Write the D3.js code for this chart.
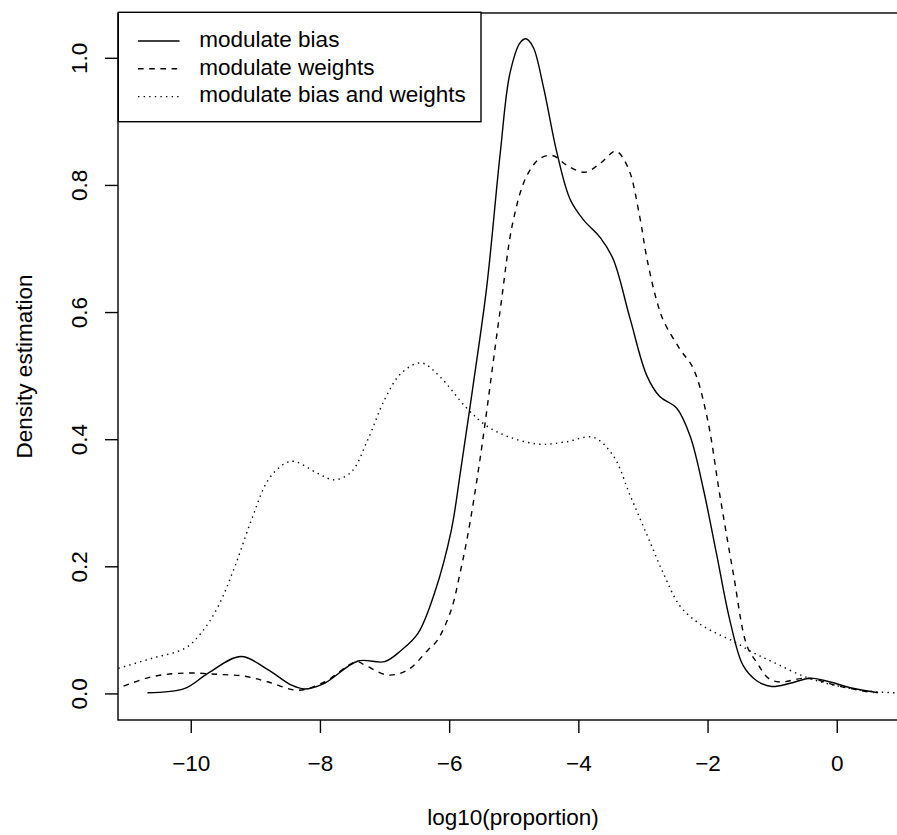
<!DOCTYPE html>
<html>
<head>
<meta charset="utf-8">
<script src="https://cdn.jsdelivr.net/npm/d3@7"></script>
<style>
  html, body { margin: 0; padding: 0; background: #fff; }
  svg { display: block; }
  text { font-family: "Liberation Sans", Arial, Helvetica, sans-serif; fill: #000; }
</style>
</head>
<body>
<svg id="chart" width="897" height="835"></svg>
<script>
// ---- Data ----
const biasX = [-10.67,-10.09,-9.73,-9.22,-8.80,-8.44,-8.24,-7.93,-7.41,-7.00,-6.74,-6.48,-6.22,-5.97,-5.83,-5.63,-5.42,-5.21,-5.06,-4.90,-4.81,-4.70,-4.54,-4.33,-4.13,-3.92,-3.66,-3.46,-3.20,-2.94,-2.74,-2.48,-2.27,-2.07,-1.86,-1.65,-1.45,-1.24,-1.01,-0.72,-0.41,-0.10,0.21,0.64];
const biasY = [0.001,0.008,0.032,0.058,0.037,0.013,0.007,0.016,0.051,0.050,0.068,0.095,0.160,0.255,0.345,0.484,0.638,0.849,0.975,1.024,1.030,1.017,0.954,0.850,0.778,0.745,0.717,0.683,0.590,0.500,0.467,0.449,0.405,0.324,0.219,0.113,0.044,0.020,0.011,0.016,0.024,0.018,0.009,0.001];

const weightsX = [-11.2,-10.61,-10.09,-9.58,-9.16,-8.80,-8.34,-7.93,-7.44,-7.31,-6.95,-6.64,-6.33,-6.18,-5.97,-5.83,-5.71,-5.52,-5.21,-5.01,-4.80,-4.59,-4.39,-4.18,-3.90,-3.66,-3.42,-3.23,-3.05,-2.94,-2.79,-2.68,-2.43,-2.22,-2.01,-1.81,-1.60,-1.39,-1.24,-1.06,-0.88,-0.46,0.05,0.57];
const weightsY = [0.005,0.026,0.032,0.030,0.027,0.018,0.005,0.018,0.050,0.045,0.029,0.037,0.068,0.084,0.131,0.190,0.250,0.370,0.603,0.743,0.814,0.842,0.846,0.831,0.820,0.834,0.853,0.827,0.750,0.685,0.619,0.586,0.542,0.511,0.436,0.312,0.188,0.075,0.049,0.024,0.018,0.024,0.011,0.001];

const bothX = [-11.2,-10.61,-10.09,-9.84,-9.58,-9.32,-9.06,-8.80,-8.54,-8.39,-8.03,-7.77,-7.51,-7.26,-7.00,-6.74,-6.43,-6.14,-5.73,-5.42,-5.06,-4.59,-4.18,-3.77,-3.46,-3.20,-2.94,-2.68,-2.43,-2.17,-1.91,-1.60,-1.29,-0.98,-0.46,0.05,0.57,1.2];
const bothY = [0.037,0.055,0.071,0.095,0.136,0.199,0.273,0.336,0.362,0.365,0.346,0.336,0.349,0.399,0.462,0.504,0.520,0.498,0.449,0.421,0.403,0.392,0.396,0.403,0.374,0.312,0.250,0.188,0.138,0.113,0.097,0.082,0.064,0.049,0.025,0.011,0.003,0.000];

const xTicks = [-10, -8, -6, -4, -2, 0];
const yTicks = [0.0, 0.2, 0.4, 0.6, 0.8, 1.0];
const seriesNames = ["modulate bias", "modulate weights", "modulate bias and weights"];
const xTitle = "log10(proportion)";
const yTitle = "Density estimation";

// ---- Layout ----
const svg = d3.select("#chart");
const W = 897, H = 835;
const plot = { left: 118, right: 908, top: 13, bottom: 720 };
const FS = 22.5, LW = 1.4;

svg.append("rect").attr("width", W).attr("height", H).attr("fill", "#fff");

const x = d3.scaleLinear().domain([-11.126, 1.103]).range([plot.left, plot.right]);
const y = d3.scaleLinear().domain([-0.0418, 1.0705]).range([plot.bottom, plot.top]);

svg.append("defs").append("clipPath").attr("id", "clip")
  .append("rect").attr("x", plot.left).attr("y", plot.top)
  .attr("width", plot.right - plot.left).attr("height", plot.bottom - plot.top);

const styles = [
  { dash: null },
  { dash: "5.6,5.6" },
  { dash: "1.4,4.2" }
];
const series = [
  d3.zip(biasX, biasY),
  d3.zip(weightsX, weightsY),
  d3.zip(bothX, bothY)
];

const line = d3.line().x(d => x(d[0])).y(d => y(d[1])).curve(d3.curveCatmullRom.alpha(0.5));

const g = svg.append("g").attr("clip-path", "url(#clip)");
series.forEach((s, i) => {
  g.append("path").attr("d", line(s)).attr("fill", "none")
    .attr("stroke", "#000").attr("stroke-width", LW)
    .attr("stroke-dasharray", styles[i].dash);
});

// Axes
const xAxis = d3.axisBottom(x).tickValues(xTicks).tickSize(13).tickPadding(0).tickFormat(d3.format("d"));
const xg = svg.append("g").attr("transform", `translate(0,${plot.bottom})`).call(xAxis);
xg.select(".domain").remove();
xg.selectAll("line").attr("stroke", "#000").attr("stroke-width", LW);
xg.selectAll("text").attr("font-size", FS).attr("font-family", "Liberation Sans, Arial, sans-serif")
  .attr("y", 51).attr("dy", null).attr("fill", "#000");

const yAxis = d3.axisLeft(y).tickValues(yTicks).tickSize(13).tickFormat(d3.format(".1f"));
const yg = svg.append("g").attr("transform", `translate(${plot.left},0)`).call(yAxis);
yg.select(".domain").remove();
yg.selectAll("line").attr("stroke", "#000").attr("stroke-width", LW);
yg.selectAll("text")
  .attr("font-size", FS).attr("font-family", "Liberation Sans, Arial, sans-serif")
  .attr("x", null).attr("dy", null)
  .attr("text-anchor", "middle")
  .attr("transform", "translate(-31,0) rotate(-90)")
  .attr("y", 0).attr("fill", "#000");

// Plot box
svg.append("rect").attr("x", plot.left).attr("y", plot.top)
  .attr("width", plot.right - plot.left).attr("height", plot.bottom - plot.top)
  .attr("fill", "none").attr("stroke", "#000").attr("stroke-width", LW);

// Titles
svg.append("text").attr("x", (plot.left + plot.right) / 2).attr("y", 825)
  .attr("text-anchor", "middle").attr("font-size", FS).text(xTitle);
svg.append("text").attr("transform", `translate(31.7,${(plot.top + plot.bottom) / 2}) rotate(-90)`)
  .attr("text-anchor", "middle").attr("font-size", FS).text(yTitle);

// Legend
const leg = svg.append("g");
leg.append("rect").attr("x", 118.3).attr("y", 12.3).attr("width", 481 - 118.3).attr("height", 121.7 - 12.3)
  .attr("fill", "#fff").attr("stroke", "#000").attr("stroke-width", LW);
seriesNames.forEach((name, i) => {
  const ly = 41 + i * 27.8;
  leg.append("line").attr("x1", 138).attr("x2", 179.5).attr("y1", ly).attr("y2", ly)
    .attr("stroke", "#000").attr("stroke-width", LW).attr("stroke-dasharray", styles[i].dash);
  leg.append("text").attr("x", 199.3).attr("y", ly + 5.8).attr("font-size", FS).text(name);
});
</script>
</body>
</html>
